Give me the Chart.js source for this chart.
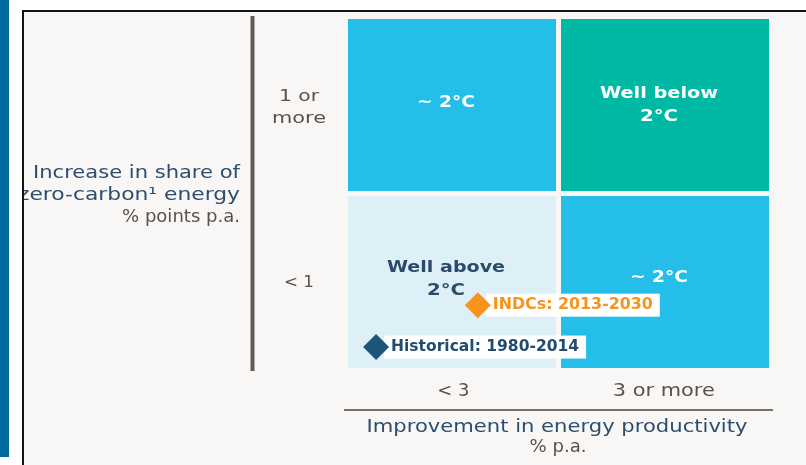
<!DOCTYPE html>
<html>
<head>
<meta charset="utf-8">
<script src="https://cdn.jsdelivr.net/npm/chart.js@4.4.1/dist/chart.umd.min.js"></script>
<style>
  html, body { margin: 0; padding: 0; background: #ffffff; }
  #wrap { width: 806px; height: 465px; }
</style>
</head>
<body>
<div id="wrap"><canvas id="matrix" width="806" height="465"></canvas></div>
<script>
// Axis categories and the thresholds that split them
const xCategories = ['< 3', '3 or more'];
const yCategories = ['< 1', ['1 or', 'more']];
const xBreaks = [0, 3, 6];   // improvement in energy productivity, % p.a.
const yBreaks = [0, 1, 2];   // increase in zero-carbon share, % points p.a.

// Outcome of each quadrant: [column][row]
const outcomeLabels = [
  [['Well above', '2°C'], ['~ 2°C']],
  [['~ 2°C'], ['Well below', '2°C']]
];

// Observed and pledged trajectories
const seriesNames = ['Historical: 1980-2014', 'INDCs: 2013-2030'];
const productivityValues = [0.4, 1.85];
const zeroCarbonValues = [0.12, 0.36];

const xTitle = ['Improvement in energy productivity', '% p.a.'];
const yTitle = ['Increase in share of', 'zero-carbon¹ energy', '% points p.a.'];

// ---- styling ----
const FONT = '"DejaVu Sans", "Liberation Sans", sans-serif';
const DARK = '#2c4d6c';
const GREY = '#56524f';
const cellStyle = [
  [{ fill: '#ddf0f8', text: '#2b4b6a', shift: -3 }, { fill: '#25bee8', text: '#ffffff', shift: -2 }],
  [{ fill: '#25bee8', text: '#ffffff', shift: -4 }, { fill: '#00b9a5', text: '#ffffff', shift: 0 }]
];
const seriesStyle = [
  { color: '#1f5479', text: '#234b6b' },
  { color: '#f7941e', text: '#f7941e' }
];

// Draw a string stretched horizontally so it spans a given width
function wideText(ctx, str, cx, cy, opts) {
  ctx.save();
  ctx.font = opts.font;
  ctx.fillStyle = opts.color;
  ctx.textBaseline = 'middle';
  ctx.textAlign = 'left';
  const natural = ctx.measureText(str).width;
  const target = opts.width || natural;
  let x;
  if (opts.align === 'right') x = cx - target;
  else if (opts.align === 'left') x = cx;
  else x = cx - target / 2;
  ctx.translate(x, cy);
  ctx.scale(target / natural, 1);
  ctx.fillText(str, 0, 0);
  ctx.restore();
  return target;
}

const framePlugin = {
  id: 'frame',
  beforeDraw(chart) {
    const ctx = chart.ctx;
    ctx.save();
    ctx.fillStyle = '#ffffff';
    ctx.fillRect(0, 0, 806, 465);
    ctx.fillStyle = '#006a9e';
    ctx.fillRect(0, 0, 9, 457);
    ctx.fillStyle = '#f8f7f5';
    ctx.fillRect(22, 10, 784, 455);
    ctx.restore();
  },
  afterDraw(chart) {
    const ctx = chart.ctx;
    ctx.save();
    ctx.strokeStyle = '#141414';
    ctx.lineWidth = 2;
    ctx.beginPath();
    ctx.moveTo(23, 465); ctx.lineTo(23, 11); ctx.lineTo(806, 11);
    ctx.stroke();
    ctx.restore();
  }
};

const quadrantPlugin = {
  id: 'quadrants',
  beforeDatasetsDraw(chart) {
    const ctx = chart.ctx;
    const xs = chart.scales.x, ys = chart.scales.y;
    const half = 2.5;
    for (let c = 0; c < 2; c++) {
      for (let r = 0; r < 2; r++) {
        let x0 = xs.getPixelForValue(xBreaks[c]);
        let x1 = xs.getPixelForValue(xBreaks[c + 1]);
        let y0 = ys.getPixelForValue(yBreaks[r + 1]);
        let y1 = ys.getPixelForValue(yBreaks[r]);
        if (c > 0) x0 += half; else x1 -= half;
        if (r > 0) y1 -= half; else y0 += half;
        const st = cellStyle[c][r];
        ctx.fillStyle = st.fill;
        ctx.fillRect(x0, y0, x1 - x0, y1 - y0);
        const lines = outcomeLabels[c][r];
        const cx = (x0 + x1) / 2 - 6;
        const cy = (y0 + y1) / 2 + st.shift;
        lines.forEach((t, i) => {
          const w = t === '2°C' ? 38 : (t === '~ 2°C' ? 58 : 118);
          wideText(ctx, t, cx, cy + (i - (lines.length - 1) / 2) * 23,
            { font: 'bold 16px ' + FONT, color: st.text, width: w });
        });
      }
    }
    // series label boxes sit beneath the markers
    chart.data.datasets.forEach((ds, i) => {
      const pt = chart.getDatasetMeta(i).data[0];
      const font = 'bold 15px ' + FONT;
      const w = i === 0 ? 188 : 160;
      ctx.fillStyle = '#ffffff';
      ctx.fillRect(pt.x + 8, pt.y - 11.5, w + 14, 23);
      wideText(ctx, ds.label, pt.x + 15, pt.y, { font, color: seriesStyle[i].text, width: w, align: 'left' });
    });
  }
};

const axisPlugin = {
  id: 'axisText',
  afterDraw(chart) {
    const ctx = chart.ctx;
    const xs = chart.scales.x;
    const reg = '17px ' + FONT;

    // separators
    ctx.save();
    ctx.strokeStyle = '#5e5a56';
    ctx.lineWidth = 4;
    ctx.beginPath(); ctx.moveTo(252.5, 16); ctx.lineTo(252.5, 371); ctx.stroke();
    ctx.strokeStyle = '#75716d';
    ctx.lineWidth = 2;
    ctx.beginPath(); ctx.moveTo(344, 410); ctx.lineTo(773, 410); ctx.stroke();
    ctx.restore();

    // x category labels
    const xw = [32, 102];
    xCategories.forEach((t, i) => {
      const cx = xs.getPixelForValue((xBreaks[i] + xBreaks[i + 1]) / 2);
      wideText(ctx, t, cx, 392, { font: reg, color: GREY, width: xw[i] });
    });
    // y category labels (top band label sits high in its band)
    const yw = [[30], [40, 54]];
    yCategories.forEach((t, i) => {
      const lines = Array.isArray(t) ? t : [t];
      lines.forEach((l, j) => {
        const y = (i === 1 ? 97 : 283) + j * 22;
        wideText(ctx, l, 299, y, { font: '16px ' + FONT, color: GREY, width: yw[i][j] });
      });
    });

    // x title
    wideText(ctx, xTitle[0], 557, 428, { font: reg, color: DARK, width: 381 });
    wideText(ctx, xTitle[1], 558, 448, { font: reg, color: GREY, width: 57 });

    // y title, clipped to the frame
    ctx.save();
    ctx.beginPath(); ctx.rect(24, 12, 782, 453); ctx.clip();
    wideText(ctx, yTitle[0], 240, 174, { font: reg, color: DARK, width: 207, align: 'right' });
    wideText(ctx, yTitle[1], 240, 196, { font: reg, color: DARK, width: 222, align: 'right' });
    wideText(ctx, yTitle[2], 240, 218, { font: reg, color: GREY, width: 118, align: 'right' });
    ctx.restore();
  }
};

new Chart(document.getElementById('matrix'), {
  type: 'scatter',
  data: {
    datasets: seriesNames.map((name, i) => ({
      label: name,
      data: [{ x: productivityValues[i], y: zeroCarbonValues[i] }],
      pointStyle: 'rectRot',
      pointRadius: 13,
      pointBackgroundColor: seriesStyle[i].color,
      pointBorderColor: seriesStyle[i].color,
      pointBorderWidth: 0
    }))
  },
  options: {
    responsive: false,
    animation: false,
    layout: { padding: { left: 348, right: 37, top: 19, bottom: 97 } },
    scales: {
      x: { type: 'linear', min: xBreaks[0], max: xBreaks[2], display: false },
      y: { type: 'linear', min: yBreaks[0], max: yBreaks[2], display: false }
    },
    plugins: { legend: { display: false }, tooltip: { enabled: false } }
  },
  plugins: [framePlugin, quadrantPlugin, axisPlugin]
});
</script>
</body>
</html>
